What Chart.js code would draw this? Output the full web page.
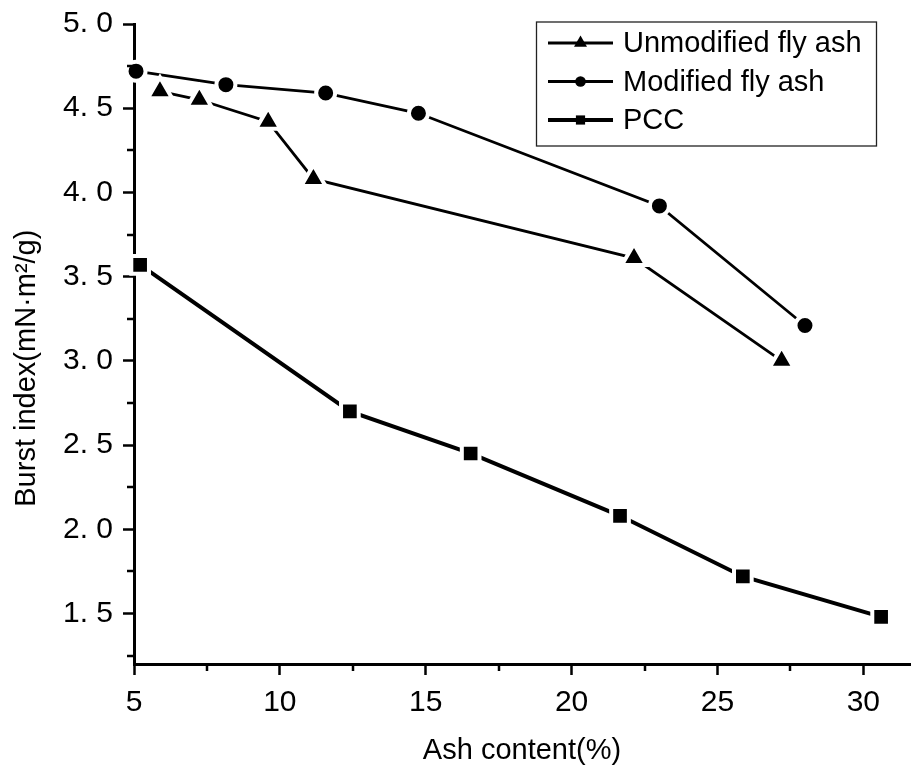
<!DOCTYPE html>
<html>
<head>
<meta charset="utf-8">
<script src="https://cdn.jsdelivr.net/npm/chart.js@4.4.0/dist/chart.umd.min.js"></script>
<style>
  html, body { margin: 0; padding: 0; background: #fff; }
  #wrap { width: 911px; height: 769px; }
</style>
</head>
<body>
<div id="wrap"><canvas id="burst" width="911" height="769"></canvas></div>
<script>
// ash content (%) vs burst index (mN·m²/g)
const unmodAsh = [5.89, 7.24, 9.60, 11.15, 22.14, 27.20];
const unmodBurst = [4.60, 4.55, 4.42, 4.08, 3.61, 3.00];
const modAsh = [5.07, 8.15, 11.57, 14.75, 23.01, 28.00];
const modBurst = [4.72, 4.64, 4.59, 4.47, 3.92, 3.21];
const pccAsh = [5.21, 12.40, 16.54, 21.66, 25.87, 30.61];
const pccBurst = [3.57, 2.70, 2.45, 2.08, 1.72, 1.48];

const seriesNames = ['Unmodified fly ash', 'Modified fly ash', 'PCC'];

const xMajorTicks = [5, 10, 15, 20, 25, 30];
const xMinorTicks = [7.5, 12.5, 17.5, 22.5, 27.5];
const yMajorTicks = [1.5, 2.0, 2.5, 3.0, 3.5, 4.0, 4.5, 5.0];
const yMinorTicks = [1.25, 1.75, 2.25, 2.75, 3.25, 3.75, 4.25, 4.75];

const FONT = '"Liberation Sans", Arial, sans-serif';

function pairs(xs, ys) {
  return xs.map((x, i) => ({ x: x, y: ys[i] }));
}

function drawMarker(ctx, style, x, y, r) {
  ctx.beginPath();
  if (style === 'triangle') {
    ctx.moveTo(x, y - r);
    ctx.lineTo(x + r * 0.866, y + r * 0.5);
    ctx.lineTo(x - r * 0.866, y + r * 0.5);
    ctx.closePath();
  } else if (style === 'circle') {
    ctx.arc(x, y, r, 0, Math.PI * 2);
  } else {
    ctx.rect(x - r, y - r, 2 * r, 2 * r);
  }
  ctx.fillStyle = '#000';
  ctx.fill();
}

// big markers make chart.js reserve room on the right; the x axis in the
// original runs almost to the edge of the picture, so widen it again
const fullWidthX = {
  id: 'fullWidthX',
  afterLayout(chart) {
    const area = chart.chartArea;
    const xs = chart.scales.x;
    const right = chart.width - 1;
    area.right = right;
    area.width = right - area.left;
    xs.right = right;
    xs.width = right - xs.left;
    xs.configure();
  }
};

// short minor ticks on both axes
const minorTicks = {
  id: 'minorTicks',
  afterDraw(chart) {
    const { ctx, chartArea } = chart;
    const xs = chart.scales.x, ys = chart.scales.y;
    ctx.save();
    ctx.strokeStyle = '#000';
    ctx.lineWidth = 2.5;
    ctx.beginPath();
    xMinorTicks.forEach(v => {
      const px = Math.round(xs.getPixelForValue(v));
      ctx.moveTo(px, chartArea.bottom);
      ctx.lineTo(px, chartArea.bottom + 7);
    });
    yMinorTicks.forEach(v => {
      const py = Math.round(ys.getPixelForValue(v));
      ctx.moveTo(chartArea.left, py);
      ctx.lineTo(chartArea.left - 7, py);
    });
    ctx.stroke();
    ctx.restore();
  }
};

// Origin-style boxed legend in the upper right
const legendMarkerSize = [7.5, 5.3, 4.6];
const boxLegend = {
  id: 'boxLegend',
  afterDraw(chart) {
    const ctx = chart.ctx;
    ctx.save();
    ctx.strokeStyle = '#222';
    ctx.lineWidth = 1.3;
    ctx.strokeRect(536.5, 22, 340, 124);
    chart.data.datasets.forEach((ds, i) => {
      const rowY = 43 + i * 38.5;
      ctx.strokeStyle = '#000';
      ctx.lineWidth = ds.borderWidth;
      ctx.beginPath();
      ctx.moveTo(548, rowY);
      ctx.lineTo(613, rowY);
      ctx.stroke();
      drawMarker(ctx, ds.pointStyle, 580.5, rowY, legendMarkerSize[i]);
      ctx.fillStyle = '#000';
      ctx.font = '29px ' + FONT;
      ctx.textBaseline = 'middle';
      ctx.fillText(ds.label, 623, rowY + 1);
    });
    ctx.restore();
  }
};

const pointCommon = {
  showLine: true,
  borderColor: '#000',
  pointBackgroundColor: '#000',
  pointBorderColor: '#fff',
  pointBorderWidth: 4,
  clip: false
};

const ctx = document.getElementById('burst').getContext('2d');
const burstChart = new Chart(ctx, {
  type: 'scatter',
  data: {
    datasets: [
      Object.assign({
        label: seriesNames[0],
        data: pairs(unmodAsh, unmodBurst),
        borderWidth: 2.8,
        pointStyle: 'triangle',
        pointRadius: 14,
        pointHoverRadius: 14
      }, pointCommon),
      Object.assign({
        label: seriesNames[1],
        data: pairs(modAsh, modBurst),
        borderWidth: 2.8,
        pointStyle: 'circle',
        pointRadius: 9.5,
        pointHoverRadius: 9.5
      }, pointCommon),
      Object.assign({
        label: seriesNames[2],
        data: pairs(pccAsh, pccBurst),
        borderWidth: 4,
        pointStyle: 'rect',
        pointRadius: 12.5,
        pointHoverRadius: 12.5
      }, pointCommon)
    ]
  },
  options: {
    responsive: false,
    animation: false,
    devicePixelRatio: 1,
    layout: { padding: { top: 24, right: 1, left: 0, bottom: 0 } },
    plugins: {
      legend: { display: false },
      tooltip: { enabled: false }
    },
    scales: {
      x: {
        type: 'linear',
        min: 5,
        max: 31.6,
        z: 1,
        afterBuildTicks: scale => { scale.ticks = xMajorTicks.map(v => ({ value: v })); },
        afterFit: scale => {
          scale.height = 105;
          scale.paddingLeft = 0;
          scale.paddingRight = 0;
        },
        border: { display: true, color: '#000', width: 3 },
        grid: { drawOnChartArea: false, drawTicks: true, tickLength: 11, tickWidth: 2.5, tickColor: '#000' },
        ticks: {
          color: '#000',
          font: { family: FONT, size: 30 },
          padding: 10,
          maxRotation: 0,
          autoSkip: false,
          callback: v => String(v)
        },
        title: {
          display: true,
          text: 'Ash content(%)',
          color: '#000',
          font: { family: FONT, size: 29 },
          padding: { top: 0, bottom: 1 }
        }
      },
      y: {
        type: 'linear',
        min: 1.2,
        max: 5.0,
        z: 1,
        afterBuildTicks: scale => { scale.ticks = yMajorTicks.map(v => ({ value: v })); },
        afterFit: scale => {
          scale.width = 134;
          scale.paddingTop = 0;
          scale.paddingBottom = 0;
        },
        border: { display: true, color: '#000', width: 3 },
        grid: { drawOnChartArea: false, drawTicks: true, tickLength: 11, tickWidth: 2.5, tickColor: '#000' },
        ticks: {
          color: '#000',
          font: { family: FONT, size: 30 },
          padding: 10,
          autoSkip: false,
          callback: v => v.toFixed(1).replace('.', '. ')
        },
        title: {
          display: true,
          // trailing spaces nudge the rotated title down like in the original
          text: 'Burst index(mN·m²/g)\u00a0\u00a0\u00a0\u00a0\u00a0\u00a0',
          color: '#000',
          font: { family: FONT, size: 29 },
          padding: { top: 10, bottom: 0 }
        }
      }
    }
  },
  plugins: [fullWidthX, minorTicks, boxLegend]
});
</script>
</body>
</html>
